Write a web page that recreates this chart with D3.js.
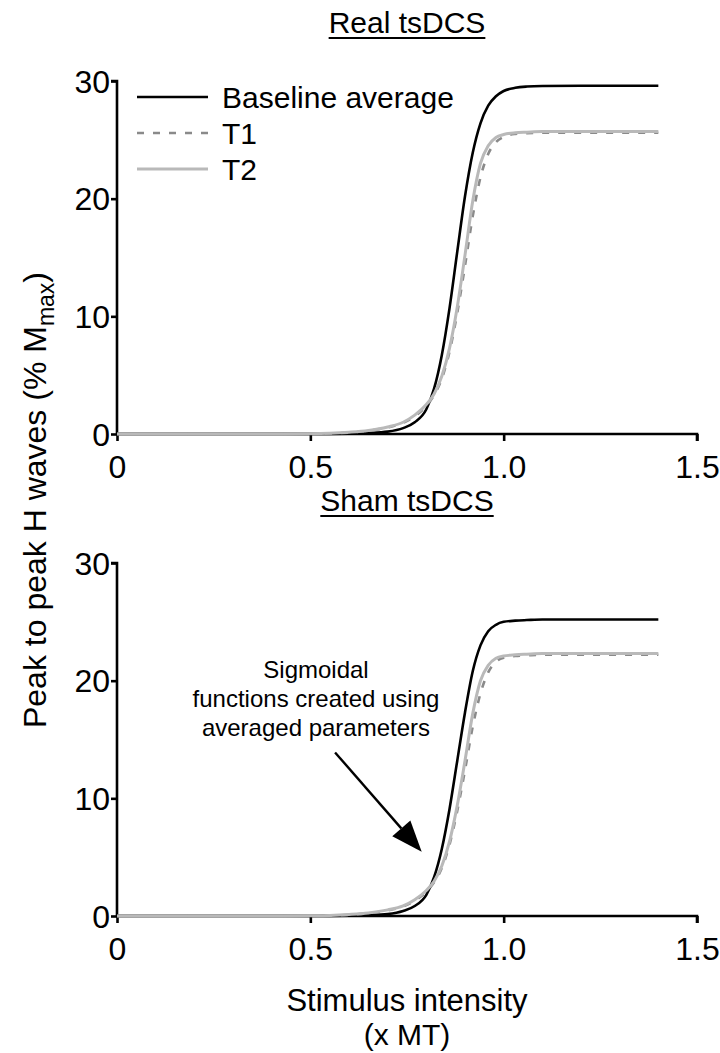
<!DOCTYPE html>
<html><head><meta charset="utf-8">
<script src="https://cdn.jsdelivr.net/npm/d3@7"></script>
<style>
html,body{margin:0;padding:0;background:#fff;}
svg text{font-family:"Liberation Sans",Arial,sans-serif;fill:#000;}
</style></head>
<body>
<svg id="chart" width="720" height="1053"></svg>
<script>
// ---- data ----
const xs = [0,0.1,0.2,0.3,0.4,0.5,0.55,0.6,0.65,0.7,0.74,0.77,0.8,0.82,0.84,0.86,0.88,0.9,0.92,0.94,0.96,0.98,1.0,1.03,1.06,1.1,1.2,1.3,1.4];
const realBaseline = [0,0,0,0,0,0,0.01,0.03,0.08,0.2,0.5,1.0,2.1,3.85,6.7,10.7,15.5,20.2,23.9,26.4,27.9,28.7,29.15,29.42,29.53,29.58,29.6,29.6,29.6];
const realT1 = [0,0,0,0,0,0.02,0.05,0.12,0.28,0.55,0.95,1.5,2.4,3.3,4.7,7.0,10.3,14.3,18.5,21.8,23.8,24.8,25.25,25.5,25.57,25.6,25.6,25.6,25.6];
const realT2 = [0,0,0,0,0,0.02,0.06,0.15,0.3,0.6,1.0,1.6,2.5,3.4,4.9,7.3,10.8,15.2,19.8,23.0,24.5,25.2,25.45,25.6,25.65,25.7,25.7,25.7,25.7];
const shamBaseline = [0,0,0,0,0,0,0.01,0.03,0.07,0.17,0.43,0.85,1.8,3.3,5.7,9.1,13.2,17.3,20.8,23.0,24.2,24.75,25.0,25.1,25.15,25.2,25.2,25.2,25.2];
const shamT1 = [0,0,0,0,0,0.02,0.04,0.1,0.24,0.48,0.82,1.3,2.08,2.86,4.08,6.07,8.94,12.4,16.1,18.9,20.7,21.6,21.95,22.1,22.15,22.2,22.2,22.2,22.2];
const shamT2 = [0,0,0,0,0,0.02,0.05,0.13,0.26,0.52,0.87,1.39,2.17,2.95,4.25,6.34,9.4,13.2,17.2,20.0,21.3,21.9,22.1,22.2,22.25,22.3,22.3,22.3,22.3];
const xTicks = [0,0.5,1.0,1.5];
const yTicks = [0,10,20,30];
const seriesNames = ["Baseline average","T1","T2"];
const panelTitles = ["Real tsDCS","Sham tsDCS"];
const annotationLines = ["Sigmoidal","functions created using","averaged parameters"];
const arrowFrom = [0.564, 13.9];
const arrowTo = [0.788, 5.46];

// ---- styles ----
const styles = [
  {stroke:"#000", width:2.6, dash:null},
  {stroke:"#8a8a8a", width:2.6, dash:"7,9"},
  {stroke:"#b9b9b9", width:3, dash:null}
];

const svg = d3.select("#chart");
const x = d3.scaleLinear().domain([0,1.5]).range([117,697]);

const panels = [
  {title:panelTitles[0], data:[realBaseline,realT1,realT2], y0:434, y30:81, titleY:33},
  {title:panelTitles[1], data:[shamBaseline,shamT1,shamT2], y0:916, y30:563, titleY:511}
];

panels.forEach((p,pi)=>{
  const y = d3.scaleLinear().domain([0,30]).range([p.y0,p.y30]);
  const g = svg.append("g");
  // axes
  const xAxis = d3.axisBottom(x).tickValues(xTicks).tickSize(7).tickPadding(14)
    .tickFormat(d=> d===0 ? "0" : d3.format(".1f")(d));
  const gx = g.append("g").attr("transform",`translate(0,${p.y0})`).call(xAxis);
  const yAxis = d3.axisLeft(y).tickValues(yTicks).tickSize(6).tickPadding(1).tickFormat(d3.format("d"));
  const gy = g.append("g").attr("transform",`translate(117,0)`).call(yAxis);
  [gx,gy].forEach(a=>{
    a.select(".domain").attr("stroke","#000").attr("stroke-width",2.6);
    a.selectAll(".tick line").attr("stroke","#000").attr("stroke-width",2.6);
    a.selectAll(".tick text").attr("font-size",32).attr("fill","#000")
      .style("font-family","'Liberation Sans',Arial,sans-serif");
  });
  gx.selectAll(".domain").attr("d",`M${x(0)},0V0H${x(1.5)}V7`);
  gy.selectAll(".domain").attr("d",`M-6,${y(30)}H0V${y(0)}`);
  gx.selectAll(".tick text").attr("dy","0.71em");
  gy.selectAll(".tick text").attr("dy","0.35em");

  // lines
  const line = d3.line().x((d,i)=>x(xs[i])).y(d=>y(d)).curve(d3.curveMonotoneX);
  p.data.forEach((vals,si)=>{
    const s = styles[si];
    g.append("path").datum(vals).attr("d",line).attr("fill","none")
      .attr("stroke",s.stroke).attr("stroke-width",s.width)
      .attr("stroke-dasharray",s.dash).attr("stroke-linejoin","round");
  });

  // title
  const t = g.append("text").attr("x",407).attr("y",p.titleY).attr("text-anchor","middle")
    .attr("font-size",30).text(p.title);
  const bb = t.node().getBBox();
  g.append("line").attr("x1",bb.x).attr("x2",bb.x+bb.width)
    .attr("y1",p.titleY+5).attr("y2",p.titleY+5).attr("stroke","#000").attr("stroke-width",2);

  if(pi===0){
    // legend
    const ly = [97,133,169];
    seriesNames.forEach((n,i)=>{
      const s = styles[i];
      g.append("line").attr("x1",137).attr("x2",208).attr("y1",ly[i]).attr("y2",ly[i])
        .attr("stroke",s.stroke).attr("stroke-width",s.width).attr("stroke-dasharray",s.dash);
      g.append("text").attr("x",222).attr("y",ly[i]).attr("dy","0.36em")
        .attr("font-size",30).text(n);
    });
  } else {
    // annotation
    annotationLines.forEach((l,i)=>{
      g.append("text").attr("x",316).attr("y",678+i*29).attr("text-anchor","middle")
        .attr("font-size",24).text(l);
    });
    const x1=x(arrowFrom[0]), y1=y(arrowFrom[1]), x2=x(arrowTo[0]), y2=y(arrowTo[1]);
    const ang = Math.atan2(y2-y1,x2-x1);
    const hl = 31, hw = 12;
    const bx = x2-hl*Math.cos(ang), by = y2-hl*Math.sin(ang);
    g.append("line").attr("x1",x1).attr("y1",y1).attr("x2",bx).attr("y2",by)
      .attr("stroke","#000").attr("stroke-width",2.4);
    const px = -Math.sin(ang), py = Math.cos(ang);
    g.append("polygon").attr("points",
      `${x2},${y2} ${bx+px*hw},${by+py*hw} ${bx-px*hw},${by-py*hw}`).attr("fill","#000");
  }
});

// axis titles
svg.append("text").attr("x",407).attr("y",1011).attr("text-anchor","middle").attr("font-size",31).text("Stimulus intensity");
svg.append("text").attr("x",407).attr("y",1045).attr("text-anchor","middle").attr("font-size",30).text("(x MT)");
const yl = svg.append("text").attr("transform","translate(46,500) rotate(-90)").attr("text-anchor","middle").attr("font-size",32);
yl.append("tspan").text("Peak to peak H waves (% M");
yl.append("tspan").attr("font-size",23).attr("dy",8).text("max");
yl.append("tspan").attr("dy",-8).text(")");
</script>
</body></html>
